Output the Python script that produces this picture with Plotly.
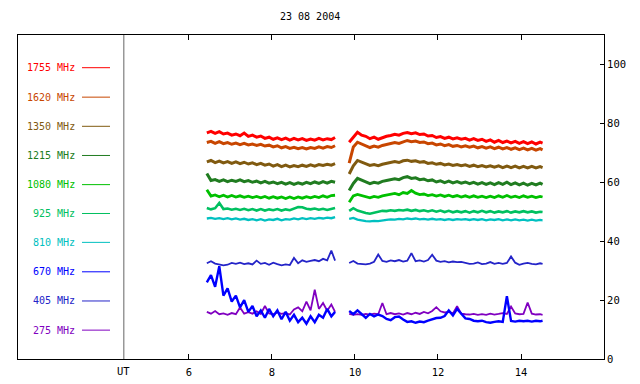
import plotly.graph_objects as go

# ---------------- data ----------------
TITLE = "23 08 2004"
X_TICKS = [6, 8, 10, 12, 14]
Y_TICKS = [0, 20, 40, 60, 80, 100]

T1 = [6.43, 6.53, 6.63, 6.73, 6.83, 6.93, 7.03, 7.13, 7.23, 7.33, 7.43, 7.53, 7.63, 7.73, 7.83, 7.93,
      8.03, 8.13, 8.23, 8.33, 8.43, 8.53, 8.63, 8.73, 8.83, 8.93, 9.03, 9.13, 9.23, 9.33, 9.43, 9.52]
T2 = [9.86, 9.96, 10.06, 10.16, 10.26, 10.36, 10.46, 10.56, 10.66, 10.76, 10.86, 10.96, 11.06, 11.16,
      11.26, 11.36, 11.46, 11.56, 11.66, 11.76, 11.86, 11.96, 12.06, 12.16, 12.26, 12.36, 12.46, 12.56,
      12.66, 12.76, 12.86, 12.96, 13.06, 13.16, 13.26, 13.36, 13.46, 13.56, 13.66, 13.76, 13.86, 13.96,
      14.06, 14.16, 14.26, 14.36, 14.46, 14.52]
GAP_T = 9.70

LABELS = ["1755 MHz", "1620 MHz", "1350 MHz", "1215 MHz", "1080 MHz",
          "925 MHz", "810 MHz", "670 MHz", "405 MHz", "275 MHz"]
COLORS = ["#ff0000", "#c84600", "#805a10", "#207c20", "#00c000",
          "#00c060", "#00c0c0", "#0000ff", "#2424c8", "#8000c0"]
LEGEND_Y = [98.9, 88.9, 79.0, 69.1, 59.2, 49.4, 39.6, 29.6, 19.7, 9.8]

F1755_A = [76.8, 77.3, 76.6, 77.2, 76.4, 76.7, 76.0, 76.4,
           75.8, 76.7, 75.6, 76.0, 75.3, 75.7, 74.9, 75.3,
           74.6, 75.1, 74.5, 75.0, 74.3, 74.9, 74.4, 74.8,
           74.2, 74.7, 74.3, 74.9, 74.4, 74.8, 74.5, 75.2]
F1755_B = [73.6, 75.5, 77.0, 76.0, 75.6, 74.8, 75.3, 74.6,
           75.2, 75.6, 75.9, 76.3, 76.0, 76.6, 76.9, 76.5,
           76.8, 76.2, 76.4, 75.7, 75.9, 75.2, 75.5, 74.9,
           75.3, 74.7, 75.1, 74.6, 74.9, 74.3, 74.8, 74.2,
           74.6, 73.9, 74.4, 73.6, 74.2, 73.5, 74.0, 73.4,
           73.9, 73.2, 73.8, 73.1, 73.7, 73.0, 73.6, 73.3]

F1620_A = [73.5, 73.9, 73.2, 73.8, 73.1, 73.5, 72.9, 73.3,
           72.8, 73.2, 72.7, 73.0, 72.5, 72.9, 72.3, 72.6,
           72.0, 72.4, 71.7, 72.1, 71.5, 71.9, 71.4, 71.8,
           71.3, 71.8, 71.5, 72.0, 71.6, 72.1, 71.8, 72.4]
F1620_B = [66.5, 72.0, 73.6, 73.0, 72.4, 71.8, 72.3, 71.9,
           72.5, 72.8, 73.2, 73.5, 73.2, 73.8, 74.2, 73.8,
           74.0, 73.5, 73.7, 73.1, 73.3, 72.7, 73.0, 72.4,
           72.8, 72.2, 72.5, 72.0, 72.4, 71.9, 72.3, 71.7,
           72.1, 71.6, 72.0, 71.4, 71.9, 71.3, 71.8, 71.2,
           71.7, 71.1, 71.6, 71.0, 71.5, 70.9, 71.4, 71.0]

F1350_A = [66.9, 67.4, 66.7, 67.2, 66.6, 67.0, 66.4, 66.9,
           66.3, 66.8, 66.2, 66.6, 66.0, 66.4, 65.8, 66.2,
           65.5, 66.0, 65.3, 65.8, 65.2, 65.7, 65.3, 65.8,
           65.4, 65.9, 65.5, 66.0, 65.7, 66.1, 65.8, 66.3]
F1350_B = [62.8, 65.6, 67.4, 66.8, 66.3, 65.7, 66.0, 65.6,
           66.1, 66.4, 66.8, 67.0, 66.7, 67.3, 67.5, 67.1,
           67.3, 66.8, 67.0, 66.4, 66.6, 66.1, 66.4, 65.9,
           66.2, 65.7, 66.0, 65.6, 65.9, 65.4, 65.8, 65.3,
           65.7, 65.2, 65.6, 65.1, 65.6, 65.0, 65.5, 65.0,
           65.5, 64.9, 65.4, 64.9, 65.4, 64.9, 65.3, 65.0]

F1215_A = [63.0, 60.6, 60.9, 60.3, 60.8, 60.2, 60.7, 60.3,
           60.8, 60.2, 60.6, 60.0, 60.4, 59.8, 60.3, 59.7,
           60.1, 59.5, 60.0, 59.4, 59.9, 59.3, 59.8, 59.4,
           60.0, 59.5, 60.1, 59.6, 60.2, 59.7, 60.3, 60.0]
F1215_B = [57.2, 59.6, 61.3, 60.6, 60.1, 59.5, 60.0, 59.7,
           60.3, 60.6, 60.9, 61.2, 60.9, 61.6, 61.9, 61.3,
           61.5, 60.9, 61.1, 60.5, 60.8, 60.1, 60.5, 59.9,
           60.4, 59.8, 60.2, 59.7, 60.1, 59.5, 60.0, 59.4,
           59.9, 59.3, 59.8, 59.2, 59.9, 59.3, 60.0, 59.2,
           59.8, 59.1, 59.7, 59.0, 59.6, 59.1, 59.7, 59.3]

F1080_A = [57.5, 55.3, 55.7, 55.1, 55.6, 55.0, 55.5, 55.0,
           55.4, 54.9, 55.3, 54.8, 55.2, 54.7, 55.2, 54.6,
           55.1, 54.6, 55.0, 54.5, 55.0, 54.5, 55.0, 54.6,
           55.1, 54.7, 55.2, 54.8, 55.4, 54.9, 55.5, 55.6]
F1080_B = [53.2, 55.4, 55.9, 55.5, 55.0, 54.7, 55.2, 54.9,
           55.4, 55.7, 55.9, 56.2, 55.8, 56.5, 56.2, 57.2,
           56.3, 55.8, 56.0, 55.5, 55.8, 55.3, 55.7, 55.2,
           55.6, 55.1, 55.5, 55.0, 55.4, 54.9, 55.4, 54.9,
           55.3, 54.8, 55.3, 54.8, 55.4, 54.9, 55.5, 54.9,
           55.3, 54.8, 55.4, 54.9, 55.3, 54.8, 55.2, 55.0]

F925_A = [51.3, 50.8, 51.2, 53.0, 50.9, 51.1, 50.7, 51.0,
          50.6, 51.0, 50.5, 50.9, 50.4, 50.9, 50.4, 50.8,
          50.5, 50.9, 50.4, 50.8, 50.5, 51.0, 51.6, 51.5,
          51.0, 50.8, 51.1, 50.7, 51.0, 50.6, 51.0, 51.3]
F925_B = [50.3, 51.2, 50.4, 49.9, 49.6, 49.3, 49.6, 49.8,
          50.3, 50.2, 50.5, 50.3, 50.6, 50.4, 50.7, 50.3,
          50.6, 50.2, 50.5, 50.1, 50.5, 50.0, 50.4, 49.9,
          50.3, 49.8, 50.2, 49.8, 50.2, 49.7, 50.2, 49.8,
          50.3, 49.8, 50.2, 49.7, 50.1, 49.8, 50.2, 49.7,
          50.1, 49.8, 50.2, 49.8, 50.1, 49.7, 50.0, 49.9]

F810_A = [47.7, 47.9, 47.6, 47.8, 47.5, 47.8, 47.4, 47.7,
          47.3, 47.6, 47.2, 47.5, 47.1, 47.5, 47.0, 47.4,
          47.2, 47.6, 47.1, 47.5, 47.3, 47.7, 47.4, 47.8,
          47.5, 47.8, 47.6, 47.9, 47.7, 48.0, 47.8, 48.2]
F810_B = [47.6, 47.9, 47.3, 47.0, 46.8, 46.7, 46.9, 46.8,
          47.1, 47.2, 47.4, 47.3, 47.6, 47.4, 47.7, 47.5,
          47.7, 47.4, 47.6, 47.3, 47.6, 47.3, 47.5, 47.2,
          47.5, 47.2, 47.5, 47.3, 47.5, 47.2, 47.5, 47.2,
          47.5, 47.1, 47.4, 47.2, 47.5, 47.1, 47.4, 47.1,
          47.4, 47.1, 47.3, 47.0, 47.3, 47.0, 47.2, 47.1]

F670_A = [26.0, 28.5, 24.5, 31.5, 21.5, 24.0, 19.5, 21.5,
          17.5, 20.0, 16.0, 18.0, 14.5, 16.5, 14.0, 17.0,
          14.5, 16.5, 13.5, 16.0, 13.0, 15.0, 12.5, 14.0,
          12.0, 14.5, 12.5, 15.0, 14.0, 17.0, 14.5, 16.0]
F670_B = [16.3, 15.2, 16.5, 15.4, 14.0, 15.3, 14.5, 15.1,
          14.6, 13.6, 13.2, 14.2, 14.4, 13.4, 12.6, 12.8,
          12.3, 12.7, 12.5, 13.0, 13.4, 13.9, 14.0, 14.6,
          16.5, 14.8, 17.0, 15.2, 13.8, 13.6, 13.0, 12.8,
          13.0, 12.5, 12.3, 12.6, 12.8, 12.6, 21.3, 12.9,
          12.7, 13.0, 12.8, 13.0, 12.7, 13.0, 12.8, 13.0]

F405_A = [32.5, 33.2, 32.4, 32.0, 31.8, 32.0, 32.6, 32.3,
          32.7, 32.2, 32.5, 32.1, 33.4, 32.3, 32.6, 32.0,
          32.7, 32.2, 31.8, 32.1, 31.9, 34.3, 32.5, 33.5,
          33.0, 33.3, 33.6, 33.2, 34.0, 33.5, 36.8, 33.4]
F405_B = [32.6, 33.3, 32.4, 32.2, 32.1, 32.4, 33.0, 35.5,
          33.3, 33.0, 33.5, 33.2, 33.6, 33.1, 33.4, 35.9,
          33.2, 33.5, 33.1, 33.6, 35.4, 33.4, 33.0, 33.2,
          32.8, 33.1, 32.9, 33.0, 32.6, 32.3, 32.4, 32.8,
          32.2, 32.4, 32.9, 32.3, 32.6, 32.3, 32.6, 34.8,
          32.7, 32.0, 32.4, 32.6, 32.3, 32.1, 32.5, 32.3]

F275_A = [16.0, 15.4, 16.3, 15.2, 15.5, 15.0, 15.6, 15.2,
          17.5, 15.4, 15.9, 15.4, 16.2, 15.3, 18.0, 15.5,
          15.2, 15.8, 15.3, 15.6, 15.1, 16.8, 17.5, 16.2,
          19.5, 16.5, 23.5, 17.0, 19.0, 16.4, 18.5, 16.0]
F275_B = [15.3, 15.0, 15.2, 15.0, 15.3, 15.1, 15.4, 15.2,
          19.0, 15.2, 15.6, 15.2, 15.5, 15.1, 15.6, 15.2,
          15.7, 15.3, 16.0, 15.5, 16.3, 17.6, 16.2, 15.8,
          16.0, 15.5, 17.9, 15.4, 15.2, 15.1, 15.3, 15.0,
          15.2, 15.0, 15.4, 15.1, 15.3, 15.6, 15.3, 17.8,
          15.5, 15.2, 15.3, 19.2, 15.4, 15.1, 15.2, 15.0]

SERIES_A = [F1755_A, F1620_A, F1350_A, F1215_A, F1080_A, F925_A, F810_A, F670_A, F405_A, F275_A]
SERIES_B = [F1755_B, F1620_B, F1350_B, F1215_B, F1080_B, F925_B, F810_B, F670_B, F405_B, F275_B]

for a, b in zip(SERIES_A, SERIES_B):
    assert len(a) == len(T1), len(a)
    assert len(b) == len(T2), len(b)

# ---------------- figure ----------------
FONT = "DejaVu Sans Mono"
FS = 10
W, H = 640, 384
ML, MR, MT, MB = 18, 36, 35, 25
PW, PH = W - ML - MR, H - MT - MB


def px_x(p):
    return (p - ML) / PW


def px_y(p):
    return (H - MB - p) / PH


WIDTHS = [3.0, 3.0, 3.0, 3.0, 2.8, 2.6, 2.3, 2.4, 1.8, 1.8]
DRAW_ORDER = [9, 8, 7, 6, 5, 4, 3, 2, 1, 0]

fig = go.Figure()
x_all = T1 + [GAP_T] + T2
for i in DRAW_ORDER:
    y_all = SERIES_A[i] + [None] + SERIES_B[i]
    fig.add_trace(go.Scatter(
        x=x_all, y=y_all, mode="lines",
        line=dict(color=COLORS[i], width=WIDTHS[i]),
        showlegend=False, hoverinfo="skip", name=LABELS[i]))

annotations = []
shapes = []
for lab, col, ly in zip(LABELS, COLORS, LEGEND_Y):
    annotations.append(dict(text=lab, x=px_x(77), xref="paper", y=ly, yref="y",
                            xanchor="right", yanchor="middle", showarrow=False,
                            font=dict(family=FONT, size=FS, color=col)))
    shapes.append(dict(type="line", xref="paper", yref="y", x0=px_x(82), x1=px_x(110),
                       y0=ly, y1=ly, line=dict(color=col, width=1)))

# UT divider
UT_X = 4.43
shapes.append(dict(type="line", xref="x", yref="paper", x0=UT_X, x1=UT_X, y0=0, y1=1,
                   line=dict(color="#666666", width=1)))
annotations.append(dict(text="UT", x=UT_X, xref="x", y=px_y(371), yref="paper",
                        xanchor="center", yanchor="middle", showarrow=False,
                        font=dict(family=FONT, size=FS + 0.5, color="black")))
annotations.append(dict(text=TITLE, x=px_x(310), xref="paper", y=px_y(17), yref="paper",
                        xanchor="center", yanchor="middle", showarrow=False,
                        font=dict(family=FONT, size=FS, color="black")))

fig.update_layout(
    width=W, height=H,
    margin=dict(l=ML, r=MR, t=MT, b=MB, pad=0, autoexpand=False),
    paper_bgcolor="white", plot_bgcolor="white",
    font=dict(family=FONT, size=FS, color="black"),
    annotations=annotations, shapes=shapes,
    xaxis=dict(range=[1.88, 16.0], tickvals=X_TICKS, ticktext=[str(v) for v in X_TICKS],
               ticks="inside", ticklen=5, tickcolor="black", showline=True, linecolor="black",
               linewidth=1, mirror="ticks", showgrid=False, zeroline=False, automargin=False,
               ticklabelstandoff=3, tickfont=dict(family=FONT, size=FS + 0.5)),
    yaxis=dict(range=[0, 110], tickvals=Y_TICKS, side="right", automargin=False,
               ticks="inside", ticklen=4, tickcolor="black", showline=True, linecolor="black",
               linewidth=1, mirror=True, showgrid=False, zeroline=False,
               tickfont=dict(family=FONT, size=FS + 0.5)),
)

fig.write_html("out.html", config={"displayModeBar": False},
               post_script="document.body.style.margin='0';document.body.style.overflow='hidden';")
